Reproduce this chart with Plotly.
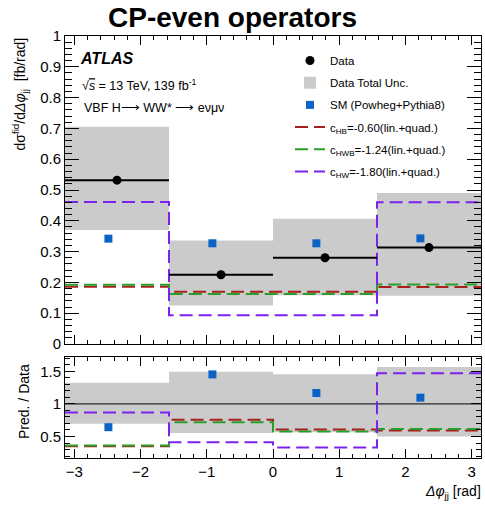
import math
import plotly.graph_objects as go

# ---------------- data ----------------
bin_edges = [-math.pi, -math.pi / 2, 0.0, math.pi / 2, math.pi]
data_vals = [0.532, 0.225, 0.280, 0.313]
unc_hi = [0.705, 0.336, 0.407, 0.490]
unc_lo = [0.370, 0.125, 0.158, 0.157]
sm_vals = [0.342, 0.327, 0.327, 0.343]
chb_vals = [0.186, 0.170, 0.170, 0.185]
chwb_vals = [0.192, 0.162, 0.162, 0.193]
chw_vals = [0.461, 0.093, 0.093, 0.460]

labels = {
    "data": "Data",
    "unc": "Data Total Unc.",
    "sm": "SM (Powheg+Pythia8)",
    "chb": "c<sub>HB</sub>=-0.60(lin.+quad.)",
    "chwb": "c<sub>HWB</sub>=-1.24(lin.+quad.)",
    "chw": "c<sub>HW</sub>=-1.80(lin.+quad.)",
}

# ---------------- layout helpers ----------------
W, H = 485, 507
L, R, T, B = 65, 481, 36, 458
PW, PH = R - L, B - T


def px(x):
    return (x - L) / PW


def py(y):
    return (B - y) / PH


FONT = "Liberation Sans, Arial, Helvetica, sans-serif"
GRAY = "#cbcbcb"
BLUE = "#0a64c8"
RED = "#a8201c"
GREEN = "#2a9e2a"
PURPLE = "#7b22ee"
DASH = "13px,6px"
SM_SHIFT = -0.13

centers = [(bin_edges[i] + bin_edges[i + 1]) / 2 for i in range(len(data_vals))]
widths = [bin_edges[i + 1] - bin_edges[i] for i in range(len(data_vals))]


def step_y(vals):
    return list(vals) + [vals[-1]]


fig = go.Figure()

# ---------- top panel ----------
fig.add_trace(go.Bar(
    x=centers, y=[h - l for h, l in zip(unc_hi, unc_lo)], base=unc_lo, width=widths,
    marker=dict(color=GRAY, line=dict(width=0)), name=labels["unc"],
    legendgroup="unc", legendrank=2, xaxis="x", yaxis="y"))

for vals, col, key, rank in [(chb_vals, RED, "chb", 4), (chwb_vals, GREEN, "chwb", 5),
                             (chw_vals, PURPLE, "chw", 6)]:
    fig.add_trace(go.Scatter(
        x=bin_edges, y=step_y(vals), mode="lines", line=dict(color=col, width=2, dash=DASH, shape="hv"),
        name=labels[key], legendgroup=key, legendrank=rank, xaxis="x", yaxis="y"))

# data horizontal lines
dx, dy = [], []
for i, v in enumerate(data_vals):
    dx += [bin_edges[i], bin_edges[i + 1], None]
    dy += [v, v, None]
fig.add_trace(go.Scatter(x=dx, y=dy, mode="lines", line=dict(color="black", width=2),
                         showlegend=False, xaxis="x", yaxis="y", hoverinfo="skip"))
fig.add_trace(go.Scatter(x=centers, y=data_vals, mode="markers",
                         marker=dict(color="black", size=9, symbol="circle"),
                         name=labels["data"], legendgroup="data", legendrank=1, xaxis="x", yaxis="y"))
fig.add_trace(go.Scatter(x=[c + SM_SHIFT for c in centers], y=sm_vals, mode="markers",
                         marker=dict(color=BLUE, size=8, symbol="square"),
                         name=labels["sm"], legendgroup="sm", legendrank=3, xaxis="x", yaxis="y"))

# ---------- ratio panel ----------
r_lo = [l / d for l, d in zip(unc_lo, data_vals)]
r_hi = [h / d for h, d in zip(unc_hi, data_vals)]
fig.add_trace(go.Bar(
    x=centers, y=[h - l for h, l in zip(r_hi, r_lo)], base=r_lo, width=widths,
    marker=dict(color=GRAY, line=dict(width=0)), showlegend=False, xaxis="x2", yaxis="y2"))
fig.add_trace(go.Scatter(x=[bin_edges[0], bin_edges[-1]], y=[1, 1], mode="lines",
                         line=dict(color="black", width=1), showlegend=False,
                         xaxis="x2", yaxis="y2", hoverinfo="skip"))
for vals, col in [(chb_vals, RED), (chwb_vals, GREEN), (chw_vals, PURPLE)]:
    rv = [v / d for v, d in zip(vals, data_vals)]
    fig.add_trace(go.Scatter(
        x=bin_edges, y=step_y(rv), mode="lines", line=dict(color=col, width=2, dash=DASH, shape="hv"),
        showlegend=False, xaxis="x2", yaxis="y2"))
fig.add_trace(go.Scatter(x=[c + SM_SHIFT for c in centers],
                         y=[s / d for s, d in zip(sm_vals, data_vals)], mode="markers",
                         marker=dict(color=BLUE, size=8, symbol="square"),
                         showlegend=False, xaxis="x2", yaxis="y2"))

# ---------- axes ----------
common_x = dict(range=[-math.pi, math.pi], showgrid=False, zeroline=False, showline=True,
                linecolor="black", linewidth=1, mirror="allticks", ticks="inside",
                tickcolor="black", tick0=0, dtick=1,
                minor=dict(ticks="inside", dtick=0.2, ticklen=4, tickcolor="black", showgrid=False),
                tickfont=dict(family=FONT, size=15, color="black"))
fig.update_layout(
    xaxis=dict(common_x, domain=[0, 1], anchor="y", showticklabels=False, ticklen=9, matches="x2"),
    xaxis2=dict(common_x, domain=[0, 1], anchor="y2", showticklabels=True, ticklen=9),
    yaxis=dict(domain=[py(344), 1], anchor="x", range=[0, 1], dtick=0.1, tick0=0,
               showgrid=False, zeroline=False, showline=True, linecolor="black", linewidth=1,
               mirror="allticks", ticks="inside", ticklen=14, tickcolor="black",
               minor=dict(ticks="inside", dtick=0.02, ticklen=7, tickcolor="black", showgrid=False),
               tickfont=dict(family=FONT, size=15, color="black")),
    yaxis2=dict(domain=[0, py(357)], anchor="x2", range=[0.17, 1.72], dtick=0.5, tick0=0,
                showgrid=False, zeroline=False, showline=True, linecolor="black", linewidth=1,
                mirror="allticks", ticks="inside", ticklen=10, tickcolor="black",
                minor=dict(ticks="inside", dtick=0.1, ticklen=5, tickcolor="black", showgrid=False),
                tickfont=dict(family=FONT, size=15, color="black")),
    barmode="overlay",
    width=W, height=H,
    margin=dict(l=L, r=W - R, t=T, b=H - B, pad=0),
    plot_bgcolor="white", paper_bgcolor="white",
    font=dict(family=FONT, color="black"),
    showlegend=True,
    legend=dict(x=px(290), y=py(46), xanchor="left", yanchor="top",
                bgcolor="rgba(0,0,0,0)", borderwidth=0, tracegroupgap=3.2,
                font=dict(family=FONT, size=11.5, color="black"), traceorder="grouped",
                itemwidth=30),
)

ann = [
    dict(text="<b>CP-even operators</b>", x=px(232), y=py(18), font=dict(size=28)),
    dict(text="<b><i>ATLAS</i></b>", x=px(78), y=py(59), xanchor="left", font=dict(size=16)),
    dict(text="\u221a<span style='text-decoration:overline'><i>s</i></span> = 13 TeV, 139 fb<sup>-1</sup>",
         x=px(80), y=py(85), xanchor="left", font=dict(size=12.5)),
    dict(text="VBF H\u27f6 WW* \u27f6 e\u03bd\u03bc\u03bd", x=px(82), y=py(108), xanchor="left",
         font=dict(size=12.5)),
    dict(text="d\u03c3<sup>fid</sup>/d<i>\u0394\u03c6</i><sub>jj</sub>  [fb/rad]", x=px(20), y=1,
         xanchor="center", yanchor="top", textangle=-90, font=dict(size=14)),
    dict(text="Pred. / Data", x=px(24), y=py(402), xanchor="center", yanchor="middle",
         textangle=-90, font=dict(size=14)),
    dict(text="<i>\u0394\u03c6</i><sub>jj</sub> [rad]", x=px(483), y=py(492), xanchor="right",
         yanchor="middle", font=dict(size=14)),
]
for a in ann:
    a.setdefault("xanchor", "center")
    a.setdefault("yanchor", "middle")
    a["font"] = dict(a["font"], family=FONT, color="black")
    fig.add_annotation(xref="paper", yref="paper", showarrow=False, **a)

fig.write_html("out.html")
